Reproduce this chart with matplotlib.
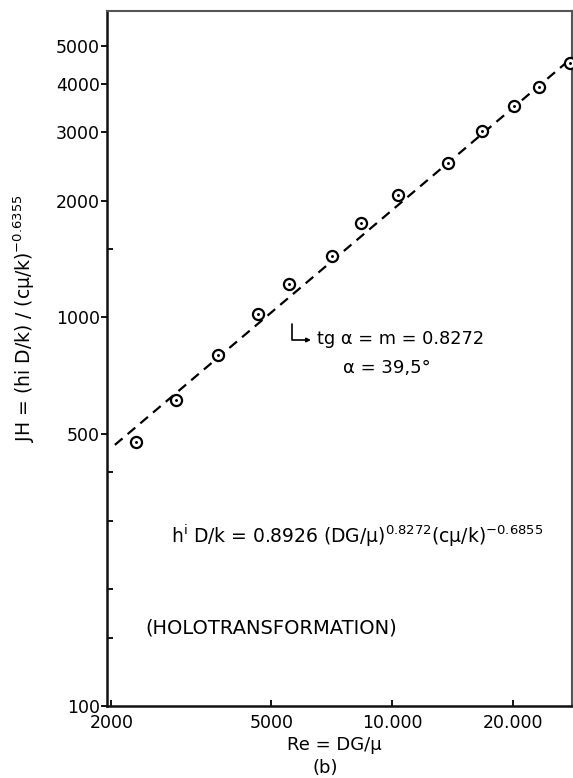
import matplotlib
matplotlib.use("Agg")
import matplotlib.pyplot as plt
from matplotlib.ticker import FixedLocator, FixedFormatter, NullLocator, NullFormatter

# ---- data ----
re_vals = [2299, 2894, 3673, 4634, 5529, 7070, 8362, 10310, 13770, 16700, 20080, 23170, 27650]
jh_vals = [477, 613, 803, 1018, 1216, 1439, 1750, 2063, 2504, 3015, 3504, 3923, 4507]
fit_re = [2040, 28000]
fit_jh = [470, 4660]

x_ticks = [2000, 5000, 10000, 20000]
x_tick_labels = ["2000", "5000", "10.000", "20.000"]
y_ticks = [100, 500, 1000, 2000, 3000, 4000, 5000]
y_tick_labels = ["100", "500", "1000", "2000", "3000", "4000", "5000"]
y_minor_ticks = [150, 200, 300, 400, 1500]

W, H = 573, 778
fig = plt.figure(figsize=(W / 100, H / 100), dpi=100)
plt.rcParams['font.family'] = ['DejaVu Sans']
plt.rcParams['mathtext.fontset'] = 'dejavusans'

def fx(px):
    return px / W

def fy(py):
    return 1 - py / H

ax = fig.add_axes([fx(107), fy(706), fx(572) - fx(107), fy(11) - fy(706)])
ax.set_xscale('log')
ax.set_yscale('log')
ax.set_xlim(1950, 28000)
ax.set_ylim(100, 6150)

ax.plot(fit_re, fit_jh, color='black', lw=1.6, linestyle=(0, (4.5, 3)), zorder=2)
ax.plot(re_vals, jh_vals, linestyle='none', marker='o', ms=8, mfc='white',
        mec='black', mew=1.6, zorder=3)
ax.plot(re_vals, jh_vals, linestyle='none', marker='.', ms=2.2, color='black', zorder=4)

ax.xaxis.set_major_locator(FixedLocator(x_ticks))
ax.xaxis.set_major_formatter(FixedFormatter(x_tick_labels))
ax.xaxis.set_minor_locator(NullLocator())
ax.xaxis.set_minor_formatter(NullFormatter())
ax.yaxis.set_major_locator(FixedLocator(y_ticks))
ax.yaxis.set_major_formatter(FixedFormatter(y_tick_labels))
ax.yaxis.set_minor_locator(FixedLocator(y_minor_ticks))
ax.yaxis.set_minor_formatter(NullFormatter())

ax.tick_params(axis='x', which='major', direction='in', length=4, width=1.3,
               labelsize=12.5, pad=6)
ax.tick_params(axis='y', which='major', direction='out', length=4, width=1.3,
               labelsize=12.5, pad=1)
ax.tick_params(axis='y', which='minor', direction='in', length=4, width=1.3)

for s in ['left', 'bottom']:
    ax.spines[s].set_linewidth(1.8)
    ax.spines[s].set_color('#111111')
for s in ['top', 'right']:
    ax.spines[s].set_linewidth(1.5)
    ax.spines[s].set_color('#555555')

# axis labels
fig.text(fx(334), fy(745), "Re = DG/μ", ha='center', va='center', fontsize=13)
fig.text(fx(325), fy(768), "(b)", ha='center', va='center', fontsize=13)
fig.text(fx(24), fy(318), r"JH = (hi D/k) / (cμ/k)$^{-0.6355}$", rotation=90,
         ha='center', va='center', fontsize=13.5)

# annotations
fig.text(fx(357), fy(536), r"h$^{\mathrm{i}}$ D/k = 0.8926 (DG/μ)$^{0.8272}$(cμ/k)$^{-0.6855}$",
         ha='center', va='center', fontsize=13.5)
fig.text(fx(271), fy(628), "(HOLOTRANSFORMATION)", ha='center', va='center', fontsize=14)
fig.text(fx(317), fy(339), "tg α = m = 0.8272", ha='left', va='center', fontsize=12.8)
fig.text(fx(387), fy(368), "α = 39,5°", ha='center', va='center', fontsize=13)
ax.annotate("", xy=(311, H - 340), xytext=(292, H - 324),
            xycoords='figure pixels', textcoords='figure pixels',
            arrowprops=dict(arrowstyle='-|>', lw=1.2, color='black',
                            shrinkA=0, shrinkB=0, mutation_scale=6,
                            connectionstyle='angle,angleA=90,angleB=0,rad=0'))

fig.savefig("out.png", dpi=100)
